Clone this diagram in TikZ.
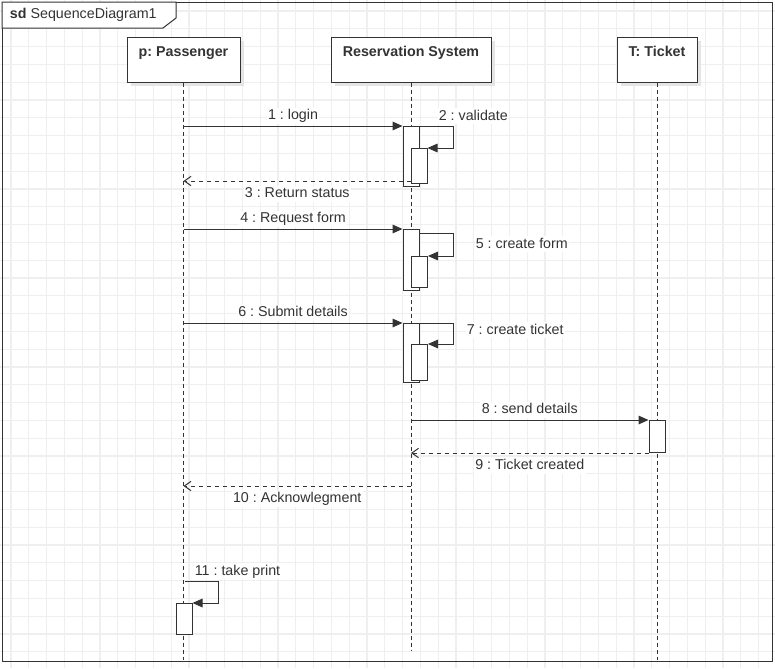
\documentclass[tikz,border=0pt]{standalone}
\usepackage{fontspec}
\setmainfont{Liberation Sans}
\usetikzlibrary{positioning, arrows.meta, shadows}

\definecolor{linegray}{HTML}{333333}
\definecolor{gridgray}{HTML}{EFEFEF}

\begin{document}
\frenchspacing
\begin{tikzpicture}[x=0.75pt, y=-0.75pt, line width=0.75pt,
  every node/.style={font=\fontsize{10.7}{13}\selectfont, text=linegray},
  headbox/.style={draw=linegray, fill=white, inner sep=0pt, minimum height=33.75pt,
    drop shadow={shadow xshift=3pt, shadow yshift=-3pt, fill=black!10, opacity=1}},
  headtext/.style={inner sep=0pt, text height=8pt, text depth=2.3pt,
    font=\fontsize{10.7}{13}\selectfont\bfseries},
  actbox/.style={draw=linegray, fill=white, inner sep=0pt, minimum width=12pt,
    minimum height=#1*0.75pt, anchor=north},
  lifeline/.style={draw=linegray, dash pattern=on 3pt off 2.25pt},
  sync/.style={draw=linegray, -{Triangle[length=7.5pt, width=6.5pt]}},
  reply/.style={draw=linegray, dash pattern=on 3pt off 3pt, -{Straight Barb[length=5pt, width=7pt]}},
  msg/.style={fill=white, inner sep=1pt, text height=8pt, text depth=2.3pt}]
\useasboundingbox (0,0) rectangle (775,668);

% background grid
\foreach \k in {0,...,43}
  \draw[gridgray, line width=1pt] (11+\k*17.8,0) -- (11+\k*17.8,668);
\foreach \k in {0,...,37}
  \draw[gridgray, line width=1pt] (0,11+\k*17.8) -- (775,11+\k*17.8);

% frame
\draw[linegray] (2,2) rectangle (772,661);
\draw[linegray, fill=white] (2,2) -- (176,2) -- (176,18) -- (163,28) -- (2,28) -- cycle;
\node[anchor=west] (frame) at (5,15) {\textbf{sd} SequenceDiagram1};

% lifeline heads
\node[headbox, minimum width=84.75pt] (pass) at (183.5,59.5) {};
\node[headbox, minimum width=120pt] (rsys) at (411,59.5) {};
\node[headbox, minimum width=60pt] (tick) at (657,59.5) {};
\node[headtext, below=6.35pt of pass.north] (passtext) {p: Passenger};
\node[headtext, below=6.35pt of rsys.north] (rsystext) {Reservation System};
\node[headtext, below=6.35pt of tick.north] (ticktext) {T: Ticket};

\coordinate (bottom) at (0,660);
\coordinate (rsend) at (0,650);
\draw[lifeline] (pass.south) -- (pass.south |- bottom);
\draw[lifeline] (rsys.south) -- (rsys.south |- rsend);
\draw[lifeline] (tick.south) -- (tick.south |- bottom);

% 1 - 3
\node[actbox=60] (act1) at (411,126) {};
\node[actbox=35] (act2) at (419,148) {};
\draw[sync] (pass |- act1.north) -- node[msg, above=1pt] (m1) {1 : login} (act1.north west);
\draw[sync] (act1.north east) -- ++(34,0) |- (act2.north east);
\node[msg, anchor=base west] (m2) at (437,120) {2 : validate};
\coordinate (r3) at (411,181);
\draw[reply] (r3) -- node[msg, below=3pt] (m3) {3 : Return status} (r3 -| pass);

% 4 - 5
\node[actbox=61] (act3) at (411,229) {};
\node[actbox=31] (act4) at (419.5,256) {};
\draw[sync] (pass |- act3.north) -- node[msg, above=1pt] (m4) {4 : Request form} (act3.north west);
\draw[sync] ([yshift=-3pt]act3.north east) -- ++(34,0) |- (act4.north east);
\node[msg, anchor=base west] (m5) at (474,248) {5 : create form};

% 6 - 7
\node[actbox=59] (act5) at (411,323) {};
\node[actbox=36] (act6) at (419.5,344) {};
\draw[sync] (pass |- act5.north) -- node[msg, above=1pt] (m6) {6 : Submit details} (act5.north west);
\draw[sync] (act5.north east) -- ++(34,0) |- (act6.north east);
\node[msg, anchor=base west] (m7) at (465,334) {7 : create ticket};

% 8 - 10
\node[actbox=32] (act7) at (657,420) {};
\draw[sync] (rsys |- act7.north) -- node[msg, above=1pt] (m8) {8 : send details} (act7.north west);
\draw[reply] (act7.south west) -- node[msg, below=3pt] (m9) {9 : Ticket created} (act7.south west -| rsys);
\coordinate (r10) at (411,486);
\draw[reply] (r10) -- node[msg, below=3pt] (m10) {10 : Acknowlegment} (r10 -| pass);

% 11
\node[actbox=31] (act8) at (184,603) {};
\coordinate (s11) at (185,581);
\draw[sync] (s11) -- ++(33,0) |- (act8.north east);
\node[msg, anchor=base west] (m11) at (193,575) {11 : take print};
\end{tikzpicture}
\end{document}
